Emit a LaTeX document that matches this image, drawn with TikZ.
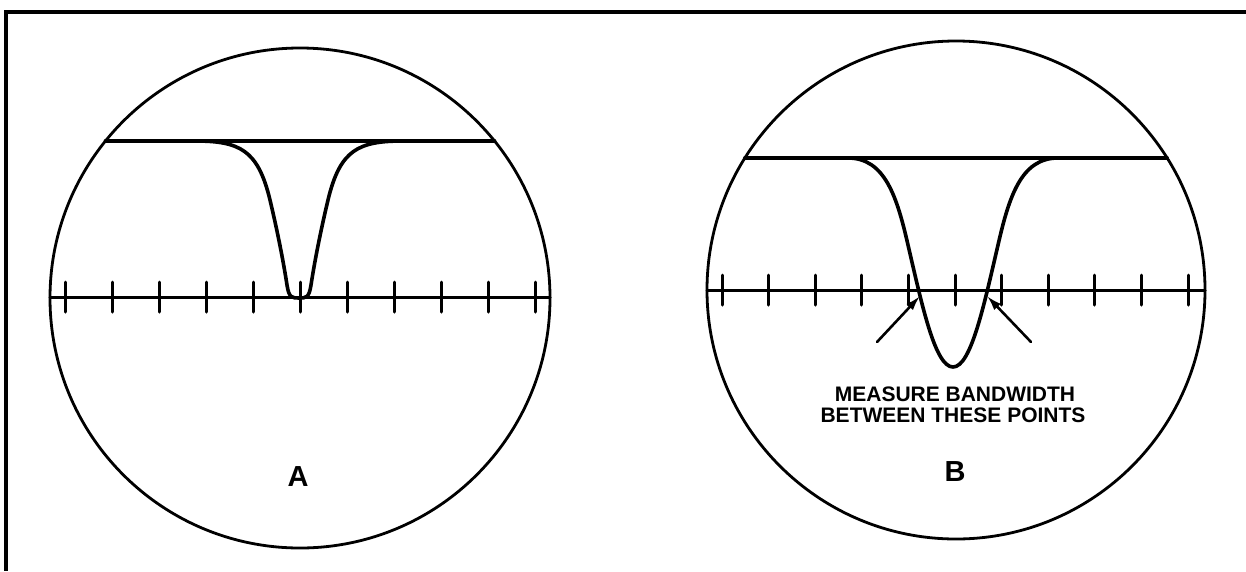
\documentclass[tikz,border=0pt]{standalone}
\usepackage{fontspec}
\setmainfont{Liberation Sans}
\usetikzlibrary{arrows.meta}

\begin{document}
\begin{tikzpicture}[x=1pt, y=-1pt, line cap=round,
    rim/.style={line width=2.8pt},
    trace/.style={line width=3.6pt, line join=round},
    axis/.style={line width=3pt},
    pointer/.style={line width=2.6pt, -{Latex[length=15pt, width=9pt]}},
    lettering/.style={font=\bfseries\fontsize{21}{24}\selectfont, inner sep=0pt},
    tag/.style={font=\bfseries\fontsize{29}{32}\selectfont, inner sep=0pt}]

    \useasboundingbox (0,0) rectangle (1246,571);

    % Frame (top and left edges only)
    \draw[line width=3.4pt, line cap=butt] (1246,12) -- (6,12) -- (6,571);

    % Screen A
    \draw[rim] (300,298) circle [radius=250pt];
    \draw[trace] (105.4,141) -- (494.6,141);
    \draw[trace] (195,141) .. controls (240,141) and (258,150) .. (270,200)
        .. controls (280,242) and (285,272) .. (287,285)
        .. controls (289,298) and (292,298) .. (299,298)
        .. controls (306,298) and (309,298) .. (311,285)
        .. controls (313,272) and (318,242) .. (328,200)
        .. controls (340,150) and (358,141) .. (403,141);
    \draw[axis] (50,297) -- (550,297);
    \foreach \k in {0,...,10}{
        \draw[axis] ({65+47*\k},282) -- ({65+47*\k},312);
    }
    \node[tag] (taga) at (298,477) {A};

    % Screen B
    \draw[rim] (956,290) circle [radius=249pt];
    \draw[trace] (744.9,158) -- (1167.1,158);
    \draw[trace] (848,158) .. controls (885,158) and (897,197) .. (908,245)
        .. controls (922,305) and (935,367) .. (953,367)
        .. controls (971,367) and (984,305) .. (998,245)
        .. controls (1009,197) and (1021,158) .. (1058,158);
    \draw[axis] (707,290) -- (1205,290);
    \foreach \k in {0,...,10}{
        \draw[axis] ({722+46.6*\k},275) -- ({722+46.6*\k},305);
    }

    % Bandwidth points
    \coordinate (lowpt) at (920,296);
    \coordinate (highpt) at (987,296);
    \coordinate (lowtail) at (877,342);
    \coordinate (hightail) at (1031,342);
    \draw[pointer] (lowtail) -- (lowpt);
    \draw[pointer] (hightail) -- (highpt);

    \node[lettering] (measure) at (955,394) {MEASURE BANDWIDTH};
    \node[lettering] (between) at (953,415) {BETWEEN THESE POINTS};
    \node[tag] (tagb) at (955,472) {B};

\end{tikzpicture}
\end{document}
